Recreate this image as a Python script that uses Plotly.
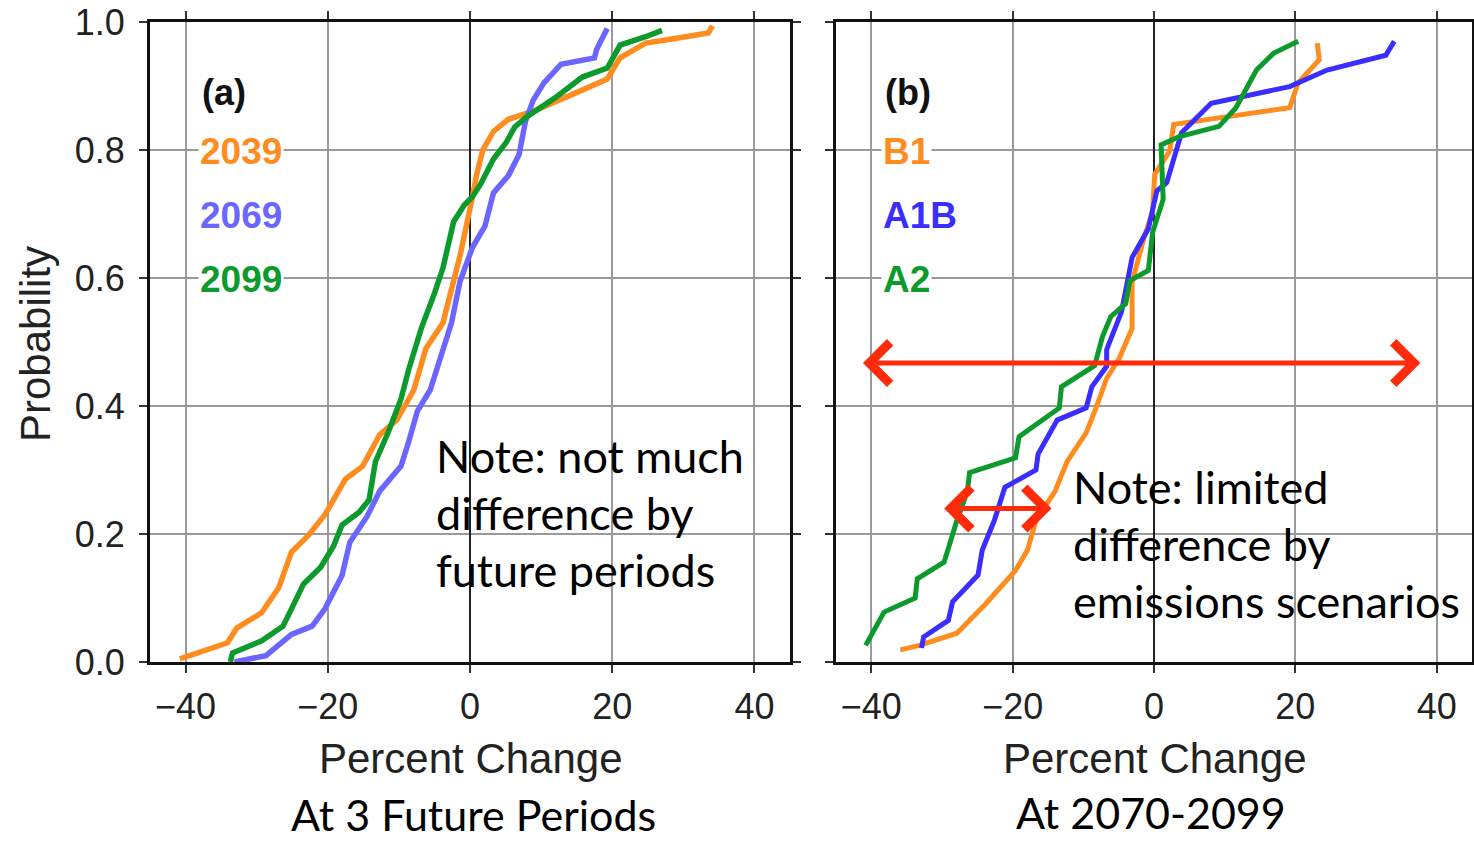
import plotly.graph_objects as go

# ---------------- data ----------------
# Panel (a): future periods
a2039_x = [-40.8, -38.2, -34.1, -32.8, -29.3, -26.9, -25.1, -22.8, -20.4, -17.5, -15.1, -12.7, -10.3, -7.9, -6.2, -3.8, -1.4, 0.35, 0.9, 1.8, 3.3, 5.4, 9.2, 14.0, 19.3, 21.1, 24.7, 28.2, 33.5, 34.1]
a2039_y = [0.005, 0.014, 0.03, 0.053, 0.077, 0.116, 0.172, 0.197, 0.23, 0.286, 0.306, 0.355, 0.378, 0.425, 0.49, 0.53, 0.635, 0.727, 0.76, 0.80, 0.829, 0.848, 0.862, 0.885, 0.911, 0.944, 0.967, 0.973, 0.983, 0.994]

a2069_x = [-33.1, -28.7, -25.1, -22.2, -20.4, -18.0, -16.9, -14.5, -12.7, -9.7, -8.6, -7.4, -5.6, -3.8, -2.6, -1.4, 0.35, 2.1, 3.3, 5.4, 6.9, 7.8, 8.9, 10.4, 12.8, 17.5, 17.8, 19.3]
a2069_y = [0.0, 0.01, 0.043, 0.056, 0.083, 0.135, 0.187, 0.227, 0.267, 0.306, 0.345, 0.392, 0.425, 0.484, 0.53, 0.595, 0.648, 0.681, 0.733, 0.76, 0.793, 0.845, 0.878, 0.905, 0.934, 0.944, 0.957, 0.99]

a2099_x = [-33.7, -33.4, -29.3, -26.3, -25.1, -23.4, -21.0, -19.2, -18.0, -15.6, -14.2, -13.3, -11.5, -9.7, -8.6, -6.8, -5.0, -3.8, -2.3, -0.8, 0.35, 1.5, 3.3, 5.1, 6.3, 8.0, 11.9, 15.8, 19.3, 21.1, 24.7, 27.0]
a2099_y = [0.0, 0.014, 0.033, 0.056, 0.083, 0.122, 0.148, 0.181, 0.214, 0.234, 0.253, 0.313, 0.359, 0.411, 0.458, 0.523, 0.576, 0.616, 0.688, 0.714, 0.727, 0.747, 0.786, 0.812, 0.836, 0.852, 0.881, 0.914, 0.928, 0.964, 0.977, 0.987]

# Panel (b): emissions scenarios at 2070-2099
bB1_x = [-35.9, -33.2, -27.9, -23.8, -19.6, -17.9, -16.7, -14.0, -12.3, -9.6, -8.2, -6.7, -4.9, -3.1, -3.1, -2.3, -1.4, -0.2, 0.1, 2.2, 2.8, 19.2, 20.4, 23.4, 23.1]
bB1_y = [0.019, 0.026, 0.045, 0.091, 0.143, 0.175, 0.221, 0.267, 0.313, 0.358, 0.397, 0.443, 0.475, 0.521, 0.593, 0.625, 0.664, 0.703, 0.762, 0.798, 0.84, 0.866, 0.905, 0.941, 0.967]

bA1B_x = [-32.9, -32.6, -29.1, -28.5, -24.9, -24.3, -22.6, -21.1, -16.7, -16.4, -13.7, -9.6, -8.8, -6.7, -6.7, -4.6, -3.1, -0.8, 0.4, 1.8, 3.9, 8.1, 19.2, 24.5, 32.8, 34.0]
bA1B_y = [0.022, 0.039, 0.065, 0.094, 0.136, 0.175, 0.221, 0.273, 0.30, 0.325, 0.378, 0.397, 0.43, 0.462, 0.488, 0.547, 0.632, 0.677, 0.736, 0.749, 0.827, 0.873, 0.899, 0.925, 0.948, 0.97]

bA2_x = [-40.8, -38.2, -33.8, -33.5, -29.7, -27.9, -26.4, -26.1, -19.6, -19.1, -13.4, -13.1, -8.4, -7.3, -6.1, -4.0, -3.4, -0.8, -0.2, 1.3, 1.0, 3.6, 9.2, 11.6, 14.5, 16.9, 20.4]
bA2_y = [0.026, 0.078, 0.10, 0.13, 0.156, 0.221, 0.267, 0.296, 0.319, 0.352, 0.397, 0.43, 0.463, 0.508, 0.54, 0.56, 0.596, 0.612, 0.671, 0.723, 0.808, 0.821, 0.837, 0.866, 0.925, 0.951, 0.97]

# annotation arrows in panel (b) coordinates: (x_start, x_end, y)
wide_arrow = (-41.4, 37.7, 0.467)
narrow_arrow = (-29.9, -14.5, 0.24)

x_ticks = [-40, -20, 0, 20, 40]
y_ticks = [0.0, 0.2, 0.4, 0.6, 0.8, 1.0]

ORANGE = "#ff8c1e"
BLUE_A = "#6b66ff"
BLUE_B = "#3a2dff"
GREEN = "#0c9a2c"
RED = "#ff2a0a"

fig = go.Figure()

def add_line(x, y, color, xa, ya, w=5.5):
    fig.add_trace(go.Scatter(x=x, y=y, mode="lines", xaxis=xa, yaxis=ya,
                             line=dict(color=color, width=w), showlegend=False,
                             hoverinfo="skip"))

add_line(a2039_x, a2039_y, ORANGE, "x", "y")
add_line(a2069_x, a2069_y, BLUE_A, "x", "y")
add_line(a2099_x, a2099_y, GREEN, "x", "y")
add_line(bB1_x, bB1_y, ORANGE, "x2", "y2", 5)
add_line(bA1B_x, bA1B_y, BLUE_B, "x2", "y2", 5)
add_line(bA2_x, bA2_y, GREEN, "x2", "y2", 5)

W, H = 1474, 842
FONT = "Liberation Sans, Arial, sans-serif"
NOTE_FONT = "Lato, Open Sans, sans-serif"

def px_x(p):
    return p / W

def px_y(p):
    return 1 - p / H

axis_common = dict(
    range=[-45, 45], tickvals=x_ticks, showgrid=True, gridcolor="#9a9a9a", gridwidth=1.5,
    zeroline=True, zerolinecolor="#222222", zerolinewidth=2,
    showline=True, linecolor="#111111", linewidth=3, mirror="allticks",
    ticks="outside", ticklen=8, tickwidth=1.5, tickcolor="#333333", automargin=False,
    tickfont=dict(family=FONT, size=36, color="#222222"), ticklabelstandoff=3,
)
yaxis_common = dict(
    range=[0, 1], tickvals=y_ticks, tickformat=".1f", showgrid=True, gridcolor="#9a9a9a",
    gridwidth=1.5, zeroline=False, automargin=False,
    showline=True, linecolor="#111111", linewidth=3, mirror="allticks",
    ticks="outside", ticklen=8, tickwidth=1.5, tickcolor="#333333",
    tickfont=dict(family=FONT, size=36, color="#222222"), ticklabelstandoff=7,
)

fig.update_layout(
    width=W, height=H, margin=dict(l=0, r=0, t=0, b=0, autoexpand=False),
    paper_bgcolor="white", plot_bgcolor="white", showlegend=False,
    xaxis=dict(domain=[px_x(150), px_x(790)], anchor="y", **axis_common),
    yaxis=dict(domain=[px_y(662), px_y(22)], anchor="x", **yaxis_common),
    xaxis2=dict(domain=[px_x(836), px_x(1472)], anchor="y2", **axis_common),
    yaxis2=dict(domain=[px_y(662), px_y(22)], anchor="x2", showticklabels=False, **yaxis_common),
)

ann = []

def text(x, y, s, size, color="#111111", family=FONT, xanchor="center", yanchor="middle",
         xref="paper", yref="paper", bg=None, textangle=0, bold=False):
    d = dict(x=x, y=y, xref=xref, yref=yref, text=("<b>%s</b>" % s) if bold else s,
             showarrow=False, xanchor=xanchor, yanchor=yanchor, textangle=textangle,
             font=dict(family=family, size=size, color=color))
    if bg:
        d["bgcolor"] = bg
    ann.append(d)

# axis titles
text(px_x(471), px_y(758), "Percent Change", 42, "#222222")
text(px_x(1155), px_y(758), "Percent Change", 42, "#222222")
text(px_x(35), px_y(344), "Probability", 42, "#222222", textangle=-90)

# panel labels
text(px_x(200), px_y(92), "(a)", 36, "#111111", xanchor="left", bold=True)
text(px_x(198), px_y(152), "2039", 37, ORANGE, xanchor="left", bold=True, bg="white")
text(px_x(198), px_y(215), "2069", 37, BLUE_A, xanchor="left", bold=True, bg="white")
text(px_x(198), px_y(279), "2099", 37, GREEN, xanchor="left", bold=True, bg="white")

text(px_x(883), px_y(92), "(b)", 36, "#111111", xanchor="left", bold=True)
text(px_x(881), px_y(152), "B1", 37, ORANGE, xanchor="left", bold=True, bg="white")
text(px_x(881), px_y(215), "A1B", 37, BLUE_B, xanchor="left", bold=True, bg="white")
text(px_x(881), px_y(279), "A2", 37, GREEN, xanchor="left", bold=True, bg="white")

# notes
for i, line in enumerate(["Note: not much", "difference by", "future periods"]):
    text(px_x(434), px_y(456 + 57 * i), line, 45, "#000000", family=NOTE_FONT, xanchor="left")
for i, line in enumerate(["Note: limited", "difference by", "emissions scenarios"]):
    text(px_x(1071), px_y(487 + 57 * i), line, 45, "#000000", family=NOTE_FONT, xanchor="left")

# captions
text(px_x(473), px_y(842), "At 3 Future Periods", 43, "#000000", family=NOTE_FONT, yanchor="bottom")
text(px_x(1151), px_y(840), "At 2070-2099", 43, "#000000", family=NOTE_FONT, yanchor="bottom")

# red double arrows
for (x0, x1, yv) in [wide_arrow, narrow_arrow]:
    ann.append(dict(x=x1, y=yv, ax=x0, ay=yv, xref="x2", yref="y2", axref="x2", ayref="y2",
                    text="", showarrow=True, arrowside="end+start", arrowhead=4,
                    startarrowhead=4, arrowsize=1.6, startarrowsize=1.6, arrowwidth=5,
                    arrowcolor=RED))

fig.update_layout(annotations=ann)
fig.write_html("out.html", config={"displayModeBar": False},
               post_script="document.body.style.margin='0';document.body.style.overflow='hidden';")
